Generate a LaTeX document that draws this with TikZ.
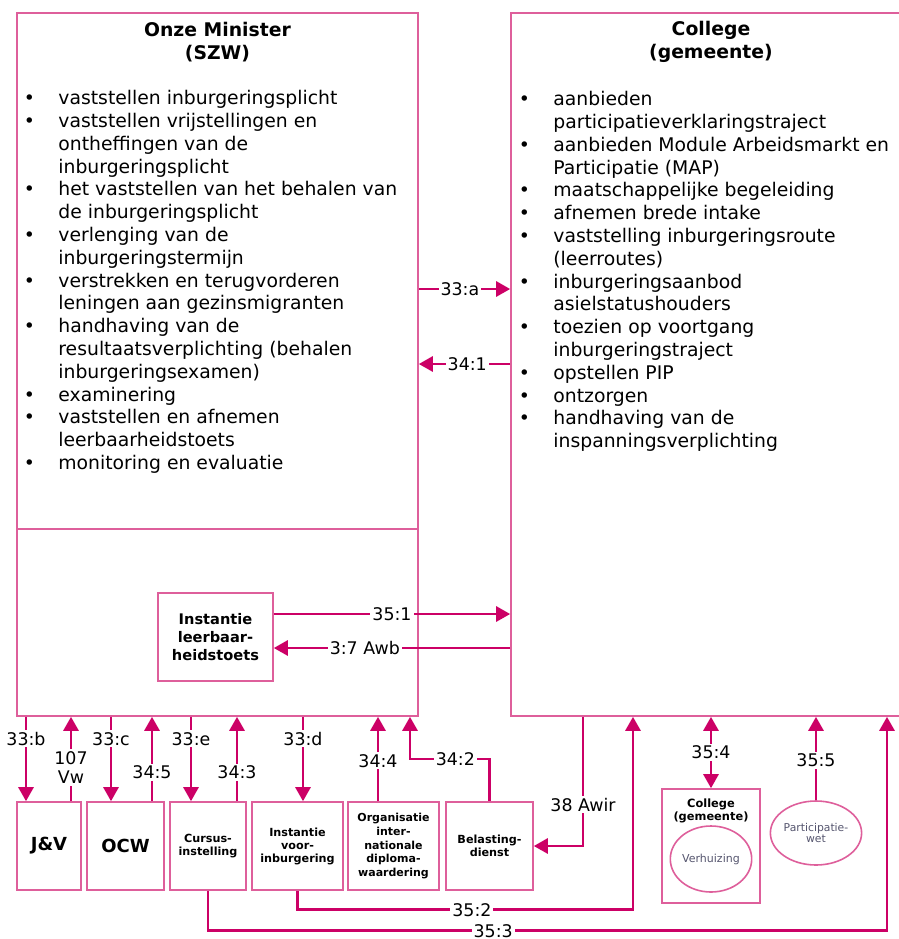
\documentclass[tikz,border=0pt]{standalone}
\usepackage{fontspec}
\setmainfont{DejaVu Sans}
\usetikzlibrary{arrows.meta}
\usetikzlibrary{shapes.geometric}

\definecolor{boxpink}{RGB}{222,95,155}
\definecolor{linkpink}{RGB}{204,0,102}
\definecolor{softtext}{RGB}{85,85,110}

\newcommand{\itm}{\leavevmode\llap{\textbullet\hspace{11.7pt}}}

\begin{document}
\begin{tikzpicture}[x=0.5pt, y=-0.5pt,
	box/.style={draw=boxpink, line width=0.8pt, inner sep=0pt, align=center},
	link/.style={draw=linkpink, line width=1.4pt, -{Triangle[length=7pt,width=7.5pt]}},
	lbl/.style={fill=white, inner sep=1pt, align=center, font=\fontsize{8.7}{9.6}\selectfont},
	tasks/.style={anchor=north west, inner sep=0pt, align=left, font=\fontsize{9.4}{11.4}\selectfont},
	head/.style={align=center, inner sep=0pt, font=\bfseries\fontsize{9.4}{11.5}\selectfont},
	small/.style={font=\bfseries\fontsize{5.6}{6.5}\selectfont}]
	\useasboundingbox (0,0) rectangle (899,939);
	\clip (0,0) rectangle (899,939);

	% main boxes
	\node[box, minimum width=200.5pt, minimum height=351.5pt] (minister) at (217.5,364.5) {};
	\node[box, minimum width=200pt, minimum height=351.5pt] (college) at (711,364.5) {};
	\draw[boxpink, line width=0.8pt] (minister.west |- 0,529) -- (minister.east |- 0,529);

	\node[head] (minhead) at (217.5,42) {Onze Minister\\(SZW)};
	\node[head] (colhead) at (711,42) {College\\(gemeente)};

	\node[tasks] (mintasks) at (58,90) {%
		\itm vaststellen inburgeringsplicht\\
		\itm vaststellen vrijstellingen en\\
		ontheffingen van de\\
		inburgeringsplicht\\
		\itm het vaststellen van het behalen van\\
		de inburgeringsplicht\\
		\itm verlenging van de\\
		inburgeringstermijn\\
		\itm verstrekken en terugvorderen\\
		leningen aan gezinsmigranten\\
		\itm handhaving van de\\
		resultaatsverplichting (behalen\\
		inburgeringsexamen)\\
		\itm examinering\\
		\itm vaststellen en afnemen\\
		leerbaarheidstoets\\
		\itm monitoring en evaluatie};
	\node[tasks] (coltasks) at (553,91) {%
		\itm aanbieden\\
		participatieverklaringstraject\\
		\itm aanbieden Module Arbeidsmarkt en\\
		Participatie (MAP)\\
		\itm maatschappelijke begeleiding\\
		\itm afnemen brede intake\\
		\itm vaststelling inburgeringsroute\\
		(leerroutes)\\
		\itm inburgeringsaanbod\\
		asielstatushouders\\
		\itm toezien op voortgang\\
		inburgeringstraject\\
		\itm opstellen PIP\\
		\itm ontzorgen\\
		\itm handhaving van de\\
		inspanningsverplichting};

	\node[box, minimum width=57.5pt, minimum height=44pt, font=\bfseries\fontsize{7.3}{8.9}\selectfont] (leerbaar) at (215.5,637) {Instantie\\leerbaar-\\heidstoets};

	% bottom row
	\node[box, minimum width=32pt, minimum height=44pt, font=\bfseries\fontsize{9}{10}\selectfont] (jv) at (49,846) {J\&V};
	\node[box, minimum width=38.5pt, minimum height=44pt, font=\bfseries\fontsize{9}{10}\selectfont] (ocw) at (125.5,846) {OCW};
	\node[box, small, minimum width=38pt, minimum height=44pt] (cursus) at (208,846) {Cursus-\\instelling};
	\node[box, small, minimum width=45.5pt, minimum height=44pt] (voorinb) at (297.5,846) {Instantie\\voor-\\inburgering};
	\node[box, minimum width=45.5pt, minimum height=44pt, font=\bfseries\fontsize{5.5}{6.8}\selectfont] (diploma) at (393.5,846) {Organisatie\\inter-\\nationale\\diploma-\\waardering};
	\node[box, small, minimum width=43.5pt, minimum height=44pt] (belast) at (489.5,846) {Belasting-\\dienst};
	\node[box, minimum width=49pt, minimum height=57pt] (gemeente) at (711,846) {};
	\node[head, font=\bfseries\fontsize{5.7}{6.6}\selectfont] (gemhead) at (711,810.5) {College\\(gemeente)};
	\node[box, ellipse, minimum width=40pt, minimum height=33pt, text=softtext, font=\fontsize{5.5}{6.5}\selectfont] (verhuizing) at (711,859) {Verhuizing};
	\node[box, ellipse, minimum width=44pt, minimum height=32pt, text=softtext, font=\fontsize{5.4}{5.5}\selectfont] (pwet) at (816,833) {Participatie-\\wet};

	% connectors
	\draw[link] (minister.east |- 0,289) -- node[lbl, pos=0.45] {33:a} (college.west |- 0,289);
	\draw[link] (college.west |- 0,364) -- node[lbl, pos=0.47] {34:1} (minister.east |- 0,364);
	\draw[link] (leerbaar.east |- 0,614) -- node[lbl] {35:1} (college.west |- 0,614);
	\draw[link] (college.west |- 0,648) -- node[lbl, pos=0.615] {3:7 Awb} (leerbaar.east |- 0,648);

	\draw[link] (minister.south -| 26,0) -- node[lbl, pos=0.26] {33:b} (jv.north -| 26,0);
	\draw[link] (jv.north -| 71,0) -- node[lbl, pos=0.4] {107\\Vw} (minister.south -| 71,0);
	\draw[link] (minister.south -| 111,0) -- node[lbl, pos=0.26] {33:c} (ocw.north -| 111,0);
	\draw[link] (ocw.north -| 152,0) -- node[lbl, pos=0.34] {34:5} (minister.south -| 152,0);
	\draw[link] (minister.south -| 191,0) -- node[lbl, pos=0.26] {33:e} (cursus.north -| 191,0);
	\draw[link] (cursus.north -| 237,0) -- node[lbl, pos=0.34] {34:3} (minister.south -| 237,0);
	\draw[link] (minister.south -| 303,0) -- node[lbl, pos=0.26] {33:d} (voorinb.north -| 303,0);
	\draw[link] (diploma.north -| 378,0) -- node[lbl, pos=0.48] {34:4} (minister.south -| 378,0);
	\coordinate (bend342) at (410,759);
	\draw[link] (belast.north) |- node[lbl, pos=0.715] {34:2} (bend342) -- (minister.south -| bend342);
	\draw[link] (college.south -| 583,0) |- node[lbl, pos=0.34] {38 Awir} (belast.east);
	\draw[link] (voorinb.south) -- ++(0,19) -| node[lbl, pos=0.26] {35:2} (college.south -| 633,0);
	\draw[link] (cursus.south) -- ++(0,40) -| node[lbl, pos=0.21] {35:3} (college.south -| 887,0);
	\draw[link, {Triangle[length=7pt,width=7.5pt]}-{Triangle[length=7pt,width=7.5pt]}] (college.south -| gemeente.north) -- node[lbl] {35:4} (gemeente.north);
	\draw[link] (pwet.north) -- node[lbl, pos=0.48] {35:5} (college.south -| pwet.north);
\end{tikzpicture}
\end{document}
